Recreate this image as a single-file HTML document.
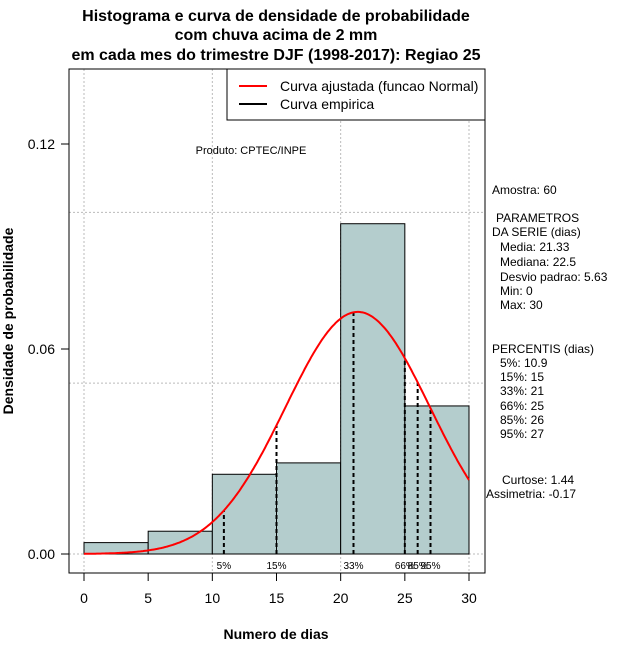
<!DOCTYPE html>
<html><head><meta charset="utf-8"><style>
body{margin:0;background:#fff;}
svg text{font-family:"Liberation Sans","DejaVu Sans",sans-serif;}
</style></head><body>
<svg id="c" width="640" height="660" xmlns="http://www.w3.org/2000/svg">
<rect width="640" height="660" fill="#fff"/>
<g font-size="16" font-weight="bold" text-anchor="middle">
<text x="276" y="21">Histograma e curva de densidade de probabilidade</text>
<text x="276" y="40">com chuva acima de 2 mm</text>
<text x="276" y="60">em cada mes do trimestre DJF (1998-2017): Regiao 25</text>
</g>
<g id="grid"></g>
<g id="bars"></g>
<g id="pct"></g>
<path id="curve" fill="none" stroke="#ff0000" stroke-width="2"/>
<rect x="69" y="69" width="416" height="504" fill="none" stroke="#000"/>
<g id="xax"></g>
<g id="yax"></g>
<text x="276" y="639" font-size="14" font-weight="bold" text-anchor="middle">Numero de dias</text>
<text transform="translate(13,321) rotate(-90)" font-size="14" font-weight="bold" text-anchor="middle">Densidade de probabilidade</text>
<text x="251" y="154" font-size="11" text-anchor="middle">Produto: CPTEC/INPE</text>
<g>
<rect x="227" y="69" width="258" height="51" fill="#fff" stroke="#000"/>
<line x1="239" y1="86" x2="267" y2="86" stroke="#ff0000" stroke-width="2"/>
<line x1="239" y1="104" x2="267" y2="104" stroke="#000" stroke-width="2"/>
<text x="280" y="91" font-size="14">Curva ajustada (funcao Normal)</text>
<text x="280" y="109" font-size="14">Curva empirica</text>
</g>
<g font-size="12">
<text x="492" y="194">Amostra: 60</text>
<text x="496" y="222">PARAMETROS</text>
<text x="492" y="236">DA SERIE (dias)</text>
<text x="500" y="251">Media: 21.33</text>
<text x="500" y="266">Mediana: 22.5</text>
<text x="500" y="281">Desvio padrao: 5.63</text>
<text x="500" y="295">Min: 0</text>
<text x="500" y="309">Max: 30</text>
<text x="492" y="353">PERCENTIS (dias)</text>
<text x="500" y="367">5%: 10.9</text>
<text x="500" y="381">15%: 15</text>
<text x="500" y="395">33%: 21</text>
<text x="500" y="410">66%: 25</text>
<text x="500" y="424">85%: 26</text>
<text x="500" y="438">95%: 27</text>
<text x="502" y="484">Curtose: 1.44</text>
<text x="486" y="498">Assimetria: -0.17</text>
</g>
</svg>
<script>
const binStarts=[0,5,10,15,20,25];
const counts=[1,2,7,8,29,13];
const sampleSize=60;
const meanVal=21.33;
const sdVal=5.63;
const pctValues=[10.9,15,21,25,26,27];
const pctLabels=["5%","15%","33%","66%","85%","95%"];
const xTicks=[0,5,10,15,20,25,30];
const yTicks=[0,0.06,0.12];
const yTickLabels=["0.00","0.06","0.12"];
const xGrid=[0,10,20,30];
const yGrid=[0,0.05,0.1];
const binW=5;
const NS="http://www.w3.org/2000/svg";
const X=v=>84+v*(469-84)/30;
const Y=v=>554-v*(554-144)/0.12;
function mk(t,a,p){const e=document.createElementNS(NS,t);for(const k in a)e.setAttribute(k,a[k]);p.appendChild(e);return e;}
const dens=x=>Math.exp(-0.5*((x-meanVal)/sdVal)**2)/(sdVal*Math.sqrt(2*Math.PI));
const g=document.getElementById('grid');
xGrid.forEach(v=>{const l=mk('line',{x1:X(v),x2:X(v),y1:69,y2:573,stroke:'#bbb','stroke-dasharray':'2,2'},g);

});
yGrid.forEach(v=>{const l=mk('line',{x1:69,x2:485,y1:Y(v),y2:Y(v),stroke:'#bbb','stroke-dasharray':'2,2'},g);

});
const b=document.getElementById('bars');
binStarts.forEach((s,i)=>{const d=counts[i]/(sampleSize*binW);
const r=mk('rect',{x:X(s),y:Y(d),width:X(s+binW)-X(s),height:Y(0)-Y(d),fill:'#b4cdcd',stroke:'#000'},b);

});
const p=document.getElementById('pct');
pctValues.forEach((v,i)=>{const l=mk('line',{x1:X(v),x2:X(v),y1:Y(0),y2:Y(dens(v)),stroke:'#000','stroke-width':2,'stroke-dasharray':'4,3'},p);


const t=mk('text',{x:X(v),y:569,'font-size':10,'text-anchor':'middle'},p);t.textContent=pctLabels[i];

});
let dp='';for(let i=0;i<=300;i++){const x=i*0.1;dp+=(i?'L':'M')+X(x).toFixed(1)+','+Y(dens(x)).toFixed(1);}
document.getElementById('curve').setAttribute('d',dp);
const xa=document.getElementById('xax');
mk('line',{x1:X(0),x2:X(30),y1:573,y2:573,stroke:'#000'},xa);
xTicks.forEach(v=>{mk('line',{x1:X(v),x2:X(v),y1:573,y2:581,stroke:'#000'},xa);
const t=mk('text',{x:X(v),y:603,'font-size':14,'text-anchor':'middle'},xa);t.textContent=v;

});
const ya=document.getElementById('yax');
yTicks.forEach((v,i)=>{mk('line',{x1:61,x2:69,y1:Y(v),y2:Y(v),stroke:'#000'},ya);
const t=mk('text',{x:55,y:Y(v)+5,'font-size':14,'text-anchor':'end'},ya);t.textContent=yTickLabels[i];

});
</script>
</body></html>
